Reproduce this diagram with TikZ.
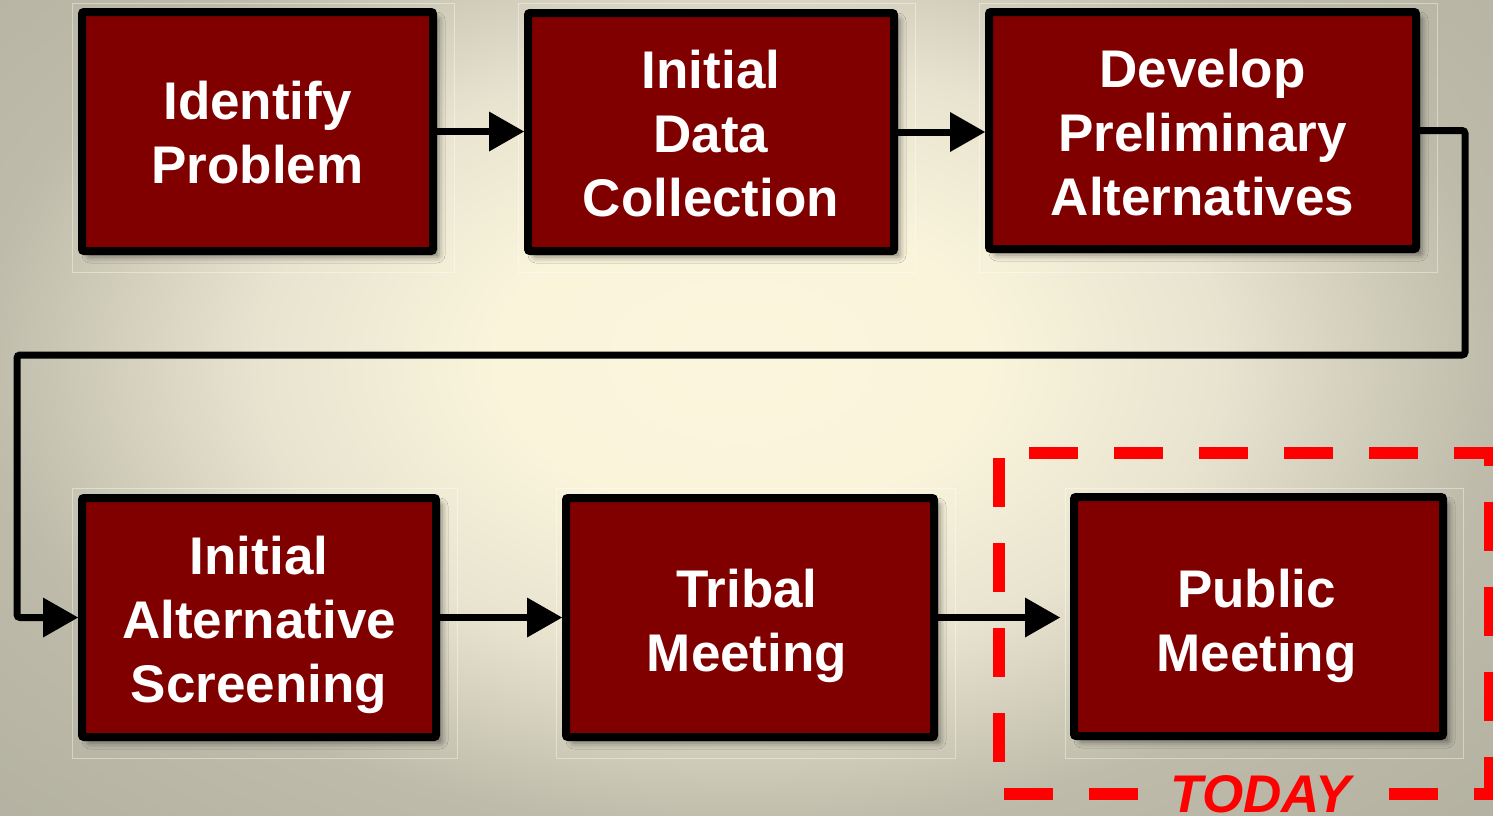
\documentclass[tikz,border=0pt]{standalone}
\usepackage{fontspec}
\setmainfont{Liberation Sans}
\usetikzlibrary{arrows.meta,shadows.blur,calc}
\definecolor{boxred}{RGB}{128,0,0}
\definecolor{todayred}{RGB}{255,0,0}
\pgfdeclareradialshading{bgshade}{\pgfpoint{0bp}{0bp}}{rgb(0bp)=(0.984,0.961,0.867); rgb(8bp)=(0.980,0.957,0.859); rgb(16bp)=(0.910,0.890,0.812); rgb(25bp)=(0.745,0.733,0.667); rgb(36bp)=(0.698,0.690,0.627); rgb(50bp)=(0.698,0.690,0.627)}
\begin{document}
\begin{tikzpicture}[x=1pt,y=-1pt,
  stepbox/.style={draw=black, line width=8pt, fill=boxred, rounded corners=2pt, inner sep=0pt,
    blur shadow={shadow xshift=6pt, shadow yshift=-6pt, shadow blur radius=6pt, shadow opacity=45}},
  boxtext/.style={text=white, font=\fontsize{53}{64}\selectfont\bfseries, align=center, inner sep=0pt},
  flow/.style={draw=black, line width=7pt, -{Triangle[width=40pt,length=35pt,line width=0pt]}},
  frameline/.style={draw=white, draw opacity=0.4, line width=1pt},
  todayline/.style={draw=todayred, line width=12pt, dash pattern=on 49pt off 36pt},
  todaytext/.style={text=todayred, font=\fontsize{53}{64}\selectfont\bfseries\itshape, inner sep=0pt, anchor=base}]
\useasboundingbox (0,0) rectangle (1493,815);
\clip (0,0) rectangle (1493,815);
\shade[shading=bgshade] (-20,-110) rectangle (1500,830);

% faint picture frames
\draw[frameline] (72,3) rectangle (454,272);
\draw[frameline] (518,3) rectangle (915,272);
\draw[frameline] (979,3) rectangle (1437,272);
\draw[frameline] (72,488) rectangle (457,758);
\draw[frameline] (556,488) rectangle (955,758);
\draw[frameline] (1065,488) rectangle (1463,758);

% boxes
\node[stepbox, minimum width=351pt, minimum height=239pt] (b1) at (257.5,131.5) {};
\node[stepbox, minimum width=366pt, minimum height=238pt] (b2) at (711,132) {};
\node[stepbox, minimum width=427pt, minimum height=237pt] (b3) at (1202.5,130.5) {};
\node[stepbox, minimum width=354pt, minimum height=239pt] (b4) at (259,617.5) {};
\node[stepbox, minimum width=368pt, minimum height=239pt] (b5) at (750,617.5) {};
\node[stepbox, minimum width=369pt, minimum height=239pt] (b6) at (1258.5,616.5) {};

% box texts
\node[boxtext] (t1) at ($(b1.center)+(0,1)$) {Identify\\Problem};
\node[boxtext] (t2) at ($(b2.center)+(0,2)$) {Initial\\Data\\Collection};
\node[boxtext] (t3) at ($(b3.center)+(0,2)$) {Develop\\Preliminary\\Alternatives};
\node[boxtext] (t4) at ($(b4.center)+(0,7)$) {Initial\\Alternative\\Screening};
\node[boxtext] (t5) at ($(b5.center)+(-3,8)$) {Tribal\\Meeting};
\node[boxtext] (t6) at ($(b6.center)+(-2,9)$) {Public\\Meeting};

% connectors
\coordinate (r1) at (1465,355);
\coordinate (l1) at (17,355);
\draw[flow] (b1.east) -- (b1.east -| b2.west);
\draw[flow] (b2.east) -- (b2.east -| b3.west);
\draw[flow, rounded corners=3pt] (b3.east) -| (r1) -- (l1) |- (b4.west);
\draw[flow] (b4.east) -- (b5.west);
\draw[flow, shorten >=10pt] (b5.east) -- (b5.east -| b6.west);

% TODAY frame
\draw[todayline, dash phase=55pt] (999,453) -- (1496,453);
\draw[todayline, dash phase=30pt] (1490,447) -- (1490,800);
\draw[todayline] (999,458) -- (999,790);
\draw[todayline] (1004,794) -- (1138,794);
\draw[todayline] (1389,794) -- (1496,794);
\node[todaytext] (today) at (1261,812) {TODAY};
\end{tikzpicture}
\end{document}
